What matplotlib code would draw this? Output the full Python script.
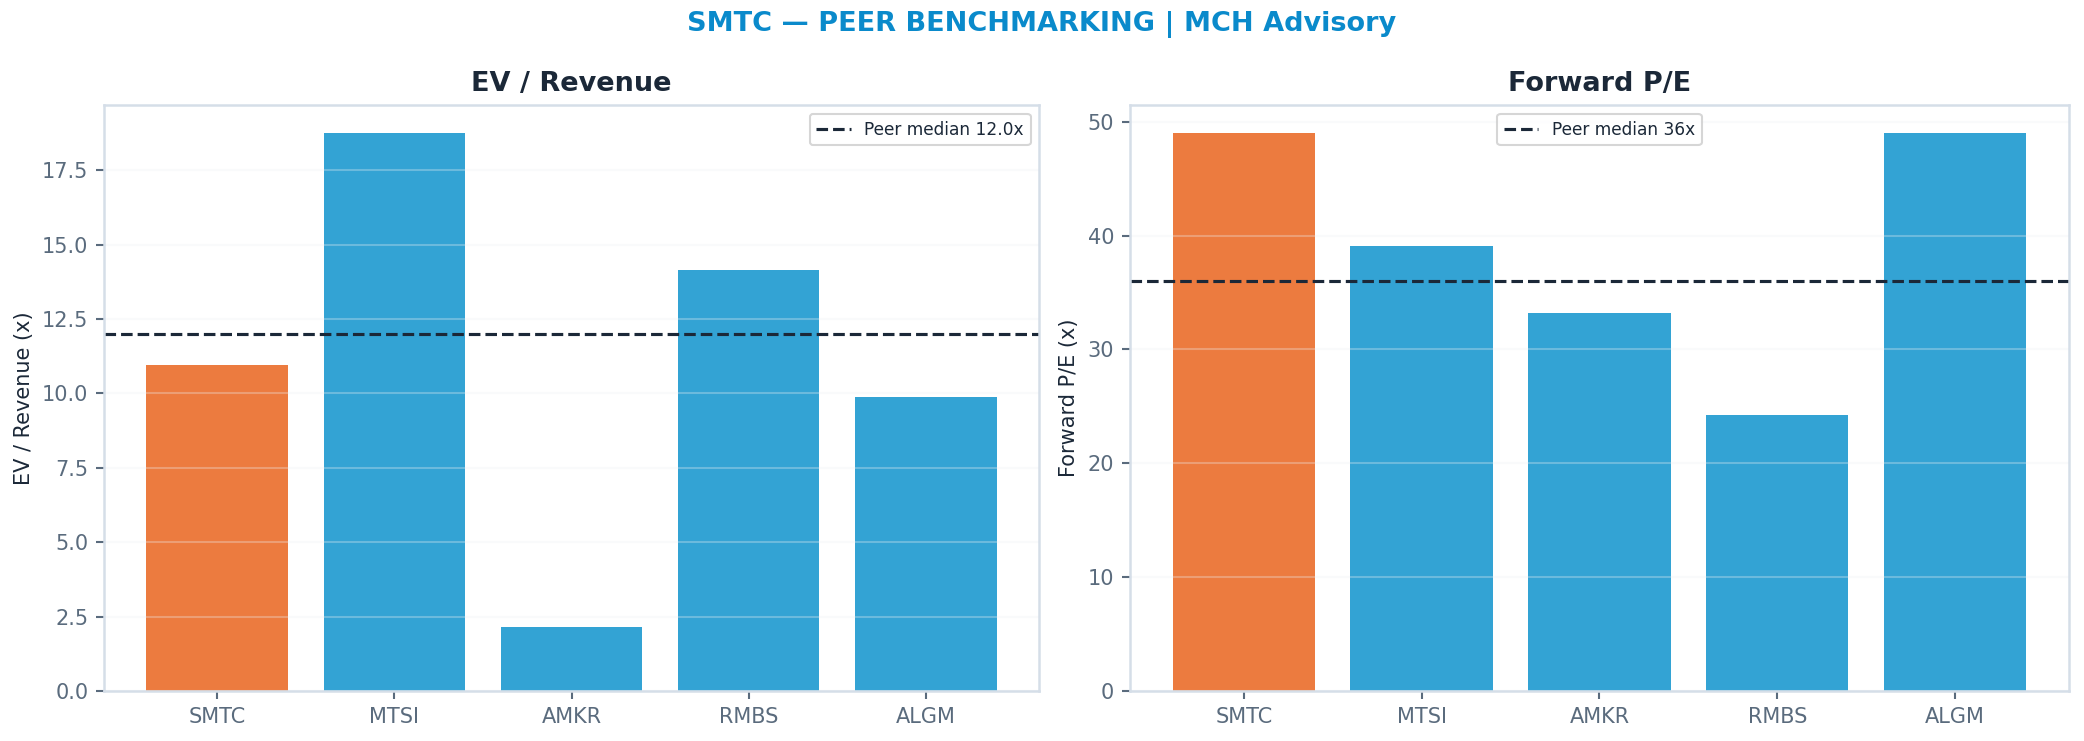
import matplotlib
matplotlib.use("Agg")
import matplotlib.pyplot as plt

tickers = ["SMTC", "MTSI", "AMKR", "RMBS", "ALGM"]
ev_revenue = [10.95, 18.75, 2.15, 14.15, 9.87]
fwd_pe = [49.0, 39.1, 33.2, 24.2, 49.0]
ev_median = 12.0
pe_median = 36

ORANGE = "#EC7B3F"
BLUE = "#33A3D4"
NAVY = "#1B2838"
TICK = "#5A6B7D"
SPINE = "#D5DEE8"

fig = plt.figure(figsize=(2084 / 150, 741 / 150), dpi=150)
ax1 = fig.add_axes([0.0499, 0.0675, 0.4487, 0.7905])
ax2 = fig.add_axes([0.5422, 0.0675, 0.4506, 0.7905])

colors = [ORANGE] + [BLUE] * (len(tickers) - 1)

panels = [
    (ax1, ev_revenue, ev_median, "EV / Revenue", "EV / Revenue (x)", f"Peer median {ev_median:.1f}x", "upper right"),
    (ax2, fwd_pe, pe_median, "Forward P/E", "Forward P/E (x)", f"Peer median {pe_median}x", "upper center"),
]

for ax, vals, med, title, ylabel, lab, loc in panels:
    ax.bar(tickers, vals, color=colors, width=0.8)
    ax.axhline(med, color=NAVY, linestyle="--", linewidth=1.5, label=lab)
    ax.set_title(title, fontsize=13, fontweight="bold", color=NAVY, pad=7)
    ax.set_ylabel(ylabel, fontsize=10, color=NAVY)
    ax.grid(axis="y", color="#EEF1F4", alpha=0.3, linewidth=1)
    for s in ax.spines.values():
        s.set_color(SPINE)
        s.set_linewidth(1.2)
    ax.tick_params(colors=TICK, labelsize=10, length=4, width=1)
    ax.tick_params(axis="both", color=TICK)
    leg = ax.legend(loc=loc, fontsize=8.2, frameon=True, fancybox=True)
    leg.get_frame().set_edgecolor("#CCCCCC")
    for t in leg.get_texts():
        t.set_color(NAVY)

fig.suptitle("SMTC \u2014 PEER BENCHMARKING | MCH Advisory", fontsize=13,
             fontweight="bold", color="#0A8ACB", y=0.985)

fig.savefig("out.png", dpi=150, facecolor="white")
